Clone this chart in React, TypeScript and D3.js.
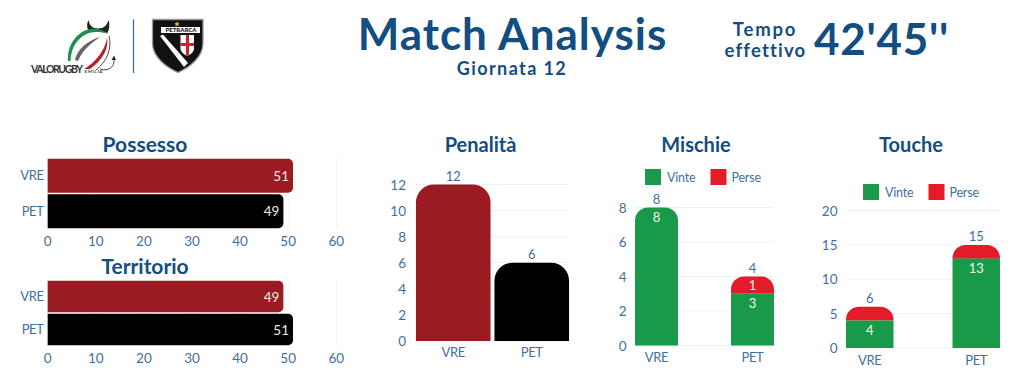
import React from "react";
import * as d3 from "d3";

const teams = ["VRE", "PET"];
const possesso = [51, 49];
const territorio = [49, 51];
const penalita = [12, 6];
const mischieVinte = [8, 3];
const mischiePerse = [0, 1];
const mischieTot = [8, 4];
const toucheVinte = [4, 13];
const touchePerse = [2, 2];
const toucheTot = [6, 15];
const hTicks = [0, 10, 20, 30, 40, 50, 60];
const penTicks = [0, 2, 4, 6, 8, 10, 12];
const mischieTicks = [0, 2, 4, 6, 8];
const toucheTicks = [0, 5, 10, 15, 20];

const BLUE = "#124e82";
const TICK = "#3f6f9f";
const GRID = "#edf1f6";
const DARKRED = "#9b1b22";
const BLACK = "#000000";
const GREEN = "#189a48";
const RED = "#e41b28";
const FONT = "Lato, 'Open Sans', sans-serif";
const TICK_SIZE = 13.5;
const CAT_SIZE = 13;
const CAT_SPACING = -0.4;
const VAL_SIZE = 13;

const topRound = (x: number, w: number, y0: number, y1: number, r: number) =>
  `M${x},${y0}V${y1 + r}A${r},${r} 0 0 1 ${x + r},${y1}H${x + w - r}A${r},${r} 0 0 1 ${x + w},${y1 + r}V${y0}Z`;
const rightRound = (x0: number, x1: number, y: number, h: number, r: number) =>
  `M${x0},${y}H${x1 - r}A${r},${r} 0 0 1 ${x1},${y + r}V${y + h - r}A${r},${r} 0 0 1 ${x1 - r},${y + h}H${x0}Z`;

function HBar({ title, titleX, titleY, values, top, rowH, barH, tickY }: any) {
  const x = d3.scaleLinear().domain([0, 60]).range([47.7, 336.3]);
  const y = d3.scaleBand().domain(teams).range([top, top + rowH * 2]);
  const colors = [DARKRED, BLACK];
  return (
    <g fontFamily={FONT}>
      <text x={titleX} y={titleY} textAnchor="middle" fontSize={21} fontWeight={700} fill={BLUE}>{title}</text>
      {hTicks.map((t) => (
        <g key={t}>
          <line x1={x(t)} x2={x(t)} y1={top} y2={top + rowH * 2} stroke={GRID} strokeWidth={1} />
          <text x={x(t)} y={tickY} textAnchor="middle" fontSize={TICK_SIZE} fill={TICK}>{t}</text>
        </g>
      ))}
      {teams.map((c, i) => {
        const by = y(c)! + (rowH - barH) / 2;
        return (
          <g key={c}>
            <path d={rightRound(x(0), x(values[i]), by, barH, 5)} fill={colors[i]} />
            <text x={x(values[i]) - 4} y={by + barH / 2 + 5} textAnchor="end" fontSize={TICK_SIZE} fill="#e8e8e8">{values[i]}</text>
            <text x={43.5} y={by + barH / 2 + 4.5} textAnchor="end" fontSize={CAT_SIZE} letterSpacing={CAT_SPACING} fill={TICK}>{c}</text>
          </g>
        );
      })}
    </g>
  );
}

function YAxis({ y, ticks, x1, x2, labelX }: any) {
  return (
    <g fontFamily={FONT}>
      {ticks.map((t: number) => (
        <g key={t}>
          <line x1={x1} x2={x2} y1={y(t)} y2={y(t)} stroke={GRID} strokeWidth={1} />
          <text x={labelX} y={y(t) + 5} textAnchor="end" fontSize={TICK_SIZE} fill={TICK}>{t}</text>
        </g>
      ))}
    </g>
  );
}

function Penalita() {
  const y = d3.scaleLinear().domain([0, 12]).range([341, 184.5]);
  const x = d3.scaleBand().domain(teams).range([414, 571]).paddingInner(0.05).paddingOuter(0.025);
  const colors = [DARKRED, BLACK];
  return (
    <g fontFamily={FONT}>
      <text x={480.5} y={152} textAnchor="middle" fontSize={20} fontWeight={700} fill={BLUE}>Penalità</text>
      <YAxis y={y} ticks={penTicks} x1={415} x2={569} labelX={406} />
      {teams.map((c, i) => (
        <g key={c}>
          <path d={topRound(x(c)!, x.bandwidth(), y(0), y(penalita[i]), 18)} fill={colors[i]} />
          <text x={x(c)! + x.bandwidth() / 2} y={y(penalita[i]) - 3.5} textAnchor="middle" fontSize={VAL_SIZE} fill={TICK}>{penalita[i]}</text>
          <text x={x(c)! + x.bandwidth() / 2} y={357} textAnchor="middle" fontSize={CAT_SIZE} letterSpacing={CAT_SPACING} fill={TICK}>{c}</text>
        </g>
      ))}
    </g>
  );
}

function Stacked({ title, titleX, vinte, perse, tot, ticks, yMax, y0, yTop, x0, x1, barW, labelX, legendX, legendY, catY }: any) {
  const y = d3.scaleLinear().domain([0, yMax]).range([y0, yTop]);
  const x = d3.scalePoint().domain(teams).range([x0 + barW / 2, x1 - barW / 2]);
  return (
    <g fontFamily={FONT}>
      <text x={titleX} y={152} textAnchor="middle" fontSize={20} fontWeight={700} fill={BLUE}>{title}</text>
      <rect x={legendX} y={legendY} width={16} height={16} fill={GREEN} />
      <text x={legendX + 22} y={legendY + 12.5} fontSize={12.5} letterSpacing={-0.2} fill={TICK}>Vinte</text>
      <rect x={legendX + 65.5} y={legendY} width={16} height={16} fill={RED} />
      <text x={legendX + 86.5} y={legendY + 12.5} fontSize={12.5} letterSpacing={-0.2} fill={TICK}>Perse</text>
      <YAxis y={y} ticks={ticks} x1={x0} x2={x1} labelX={x0 - 8.5} />
      {teams.map((c, i) => {
        const bx = x(c)! - barW / 2;
        const cx = x(c)!;
        const yV = y(vinte[i]);
        const yT = y(tot[i]);
        return (
          <g key={c}>
            {perse[i] > 0 ? (
              <>
                <path d={topRound(bx, barW, yV, yT, 13)} fill={RED} />
                <rect x={bx} y={yV} width={barW} height={y0 - yV} fill={GREEN} />
                {title === "Mischie" && (
                  <text x={cx} y={(yV + yT) / 2 + 5} textAnchor="middle" fontSize={VAL_SIZE} fill="#f4f4f4">{perse[i]}</text>
                )}
              </>
            ) : (
              <path d={topRound(bx, barW, y0, yV, 13)} fill={GREEN} />
            )}
            <text x={cx} y={yV + 14.5} textAnchor="middle" fontSize={VAL_SIZE} fill="#f4f4f4">{vinte[i]}</text>
            <text x={cx} y={yT - 4} textAnchor="middle" fontSize={VAL_SIZE} fill={TICK}>{tot[i]}</text>
            <text x={cx} y={catY} textAnchor="middle" fontSize={CAT_SIZE} letterSpacing={CAT_SPACING} fill={TICK}>{c}</text>
          </g>
        );
      })}
    </g>
  );
}

function Logos() {
  return (
    <g>
      {/* Valorugby mark */}
      <path d="M88,30 C86.5,26 87,23 88.5,20 C89.5,25 92,28.5 98,28.5 C104,28.5 107,25 108.5,20 C110,24 109.5,29 107.5,33 C102,30 94,29 88,30Z" fill="#222" />
      <path d="M68,61 C67,46 76,32 90,29 C96,28 104,30 108,34 C101,31.5 94,31.5 89,33 C78,37 71,47 70.5,61Z" fill="#1d8f4e" />
      <path d="M75,60 C77,50 86,41 100,37 C90,44 82,51 78,61Z" fill="#666" />
      <path d="M84,69 C96,62 105,50 107,38 C109,48 103,60 90,69Z" fill="#b8202a" />
      <path d="M109,36 C112,48 108,60 96,70" fill="none" stroke="#222" strokeWidth={0.8} />
      <path d="M100,69 C108,72 115,67 114,59" fill="none" stroke="#333" strokeWidth={0.9} />
      <path d="M111.5,60 L114,55.5 L116,60Z" fill="#222" />
      <text x={31} y={72.5} fontFamily={FONT} fontSize={10.5} fontWeight={700} fill="#333" textLength={52}>VALORUGBY</text>
      <text x={84.5} y={72.5} fontFamily={FONT} fontSize={4.5} fontWeight={700} fill="#444" textLength={18}>EMILIA</text>
      <line x1={133.5} x2={133.5} y1={19.5} y2={73} stroke="#2c6aa0" strokeWidth={1.2} />
      {/* Petrarca shield */}
      <path d="M152.5,19.5H203V43C203,57 190,67 178,72.5C166,67 152.5,57 152.5,43Z" fill="#111" stroke="#999" strokeWidth={1.3} />
      <rect x={161} y={27} width={39} height={6} fill="#fff" />
      <text x={181} y={32.4} textAnchor="middle" fontFamily={FONT} fontSize={6} fontWeight={900} fill="#111">PETRARCA</text>
      <path d="M177,21.5l0.8,1.6 1.7,0.2-1.2,1.2 0.3,1.7-1.6,-0.8-1.6,0.8 0.3,-1.7-1.2,-1.2 1.7,-0.2Z" fill="#d9b43a" />
      <path d="M160,36L163,34.5 L188,63 L184,67Z" fill="#fff" />
      <path d="M180.5,35h13.5v13c0,4-3,6-6.7,8c-3.8-2-6.8-4-6.8-8Z" fill="#fff" />
      <path d="M186,35h3v8h5v3h-5v9l-1.7,1l-1.3,-1v-9h-5.5v-3h5.5Z" fill="#d0202c" />
    </g>
  );
}

export default function App() {
  return (
    <svg width={1024} height={384} viewBox="0 0 1024 384" style={{ position: "absolute", left: 0, top: 0, background: "#fff" }}>
      <Logos />
      <g fontFamily={FONT} fill={BLUE} fontWeight={700} textAnchor="middle">
        <text x={512.5} y={50} fontSize={44} letterSpacing={1}>Match Analysis</text>
        <text x={512} y={75} fontSize={18} letterSpacing={1.4}>Giornata 12</text>
        <text x={765} y={36} fontSize={18.5} letterSpacing={1.8}>Tempo</text>
        <text x={765.5} y={57} fontSize={18.5} letterSpacing={1.2}>effettivo</text>
        <text x={881.5} y={55} fontSize={44} letterSpacing={0.7}>42'45''</text>
      </g>
      <HBar title="Possesso" titleX={145} titleY={152} values={possesso} top={158} rowH={35.5} barH={34} tickY={246} />
      <HBar title="Territorio" titleX={145} titleY={274} values={territorio} top={280} rowH={33} barH={31.5} tickY={363} />
      <Penalita />
      <Stacked title="Mischie" titleX={696} vinte={mischieVinte} perse={mischiePerse} tot={mischieTot} ticks={mischieTicks} yMax={8} y0={345.5} yTop={207.5} x0={635} x1={774} barW={43} labelX={626} legendX={645} legendY={169} catY={362} />
      <Stacked title="Touche" titleX={911} vinte={toucheVinte} perse={touchePerse} tot={toucheTot} ticks={toucheTicks} yMax={20} y0={348} yTop={210.5} x0={846} x1={1000} barW={47.5} labelX={837} legendX={863} legendY={184} catY={365} />
    </svg>
  );
}
